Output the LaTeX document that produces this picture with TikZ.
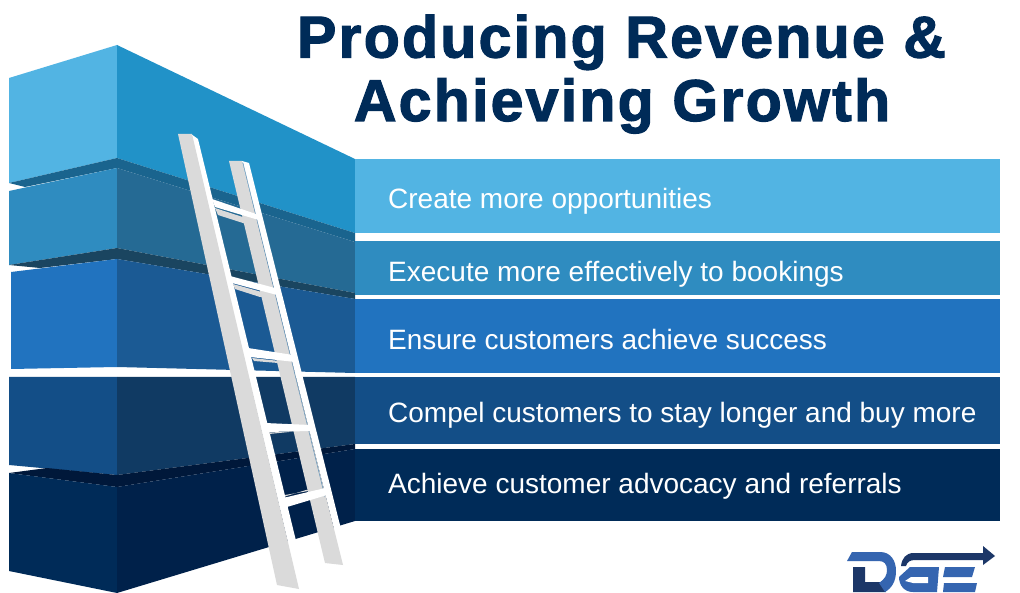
\documentclass[tikz,border=0pt]{standalone}
\usepackage{fontspec}
\setmainfont{Liberation Sans}
\definecolor{skyA}{HTML}{52B4E3}
\definecolor{skyB}{HTML}{2192C8}
\definecolor{skyC}{HTML}{1A648E}
\definecolor{tealA}{HTML}{2F8CC0}
\definecolor{tealB}{HTML}{256A94}
\definecolor{tealC}{HTML}{1A4560}
\definecolor{blueA}{HTML}{2173BF}
\definecolor{blueB}{HTML}{1B5A94}
\definecolor{deepA}{HTML}{134E87}
\definecolor{deepB}{HTML}{103A63}
\definecolor{navyA}{HTML}{002B58}
\definecolor{navyB}{HTML}{00214A}
\definecolor{navyC}{HTML}{00183A}
\definecolor{railgray}{HTML}{DADADA}
\definecolor{railline}{HTML}{5E8FB5}
\definecolor{logoA}{HTML}{3565B0}
\definecolor{logoB}{HTML}{1C3768}
\tikzset{
  paneltext/.style={anchor=base west, inner sep=0pt, text=white, font=\fontsize{28}{28}\selectfont},
  titleline/.style={anchor=base, inner sep=0pt, text=navyA, font=\fontsize{59}{59}\selectfont\bfseries\addfontfeature{LetterSpace=3.8,FakeBold=2}}
}
\begin{document}
\begin{tikzpicture}[x=1pt, y=-1pt]
\useasboundingbox (0,0) rectangle (1020,593);
\fill[white] (0,0) rectangle (1020,593);
% blocks
\fill[skyA] (9,78)--(117,45)--(117,158)--(9,183)--cycle;
\fill[skyB] (117,45)--(355,159)--(355,233)--(117,158)--cycle;
\fill[skyC] (9,183)--(117,158)--(355,233)--(355,242)--(117,168)--(25,187)--cycle;
\fill[tealA] (9,191)--(117,168)--(117,248)--(9,265)--cycle;
\fill[tealB] (117,168)--(355,242)--(355,293)--(117,248)--cycle;
\fill[tealC] (9,265)--(117,248)--(355,293)--(355,299)--(117,259)--(40,268)--cycle;
\fill[blueA] (11,272)--(117,259)--(117,367)--(11,369)--cycle;
\fill[blueB] (117,259)--(355,299)--(355,373)--(117,367)--cycle;
\fill[deepA] (9,377)--(117,377)--(117,475)--(9,465)--cycle;
\fill[deepB] (117,377)--(355,377)--(355,444)--(117,475)--cycle;
\fill[navyC] (9,473)--(47,468)--(117,475)--(355,444)--(355,449)--(117,487)--cycle;
\fill[navyA] (9,473)--(117,487)--(117,593)--(9,571)--cycle;
\fill[navyB] (117,487)--(355,449)--(355,521)--(117,593)--cycle;
% panels
\fill[skyA] (355,159) rectangle (1000,233);
\fill[tealA] (355,241) rectangle (1000,295);
\fill[blueA] (355,299) rectangle (1000,373);
\fill[deepA] (355,377) rectangle (1000,444);
\fill[navyA] (355,449) rectangle (1000,521);
\node[paneltext] (create) at (388,209) {Create more opportunities};
\node[paneltext] (execute) at (388,282) {Execute more effectively to bookings};
\node[paneltext] (ensure) at (388,350) {Ensure customers achieve success};
\node[paneltext] (compel) at (388,422) {Compel customers to stay longer and buy more};
\node[paneltext] (advocacy) at (388,493) {Achieve customer advocacy and referrals};
% title
\node[titleline] (line1) at (621.5,57.5) {Producing Revenue \&};
\node[titleline] (line2) at (622,121) {Achieving Growth};
% ladder
\fill[white] (191,134)--(198,139)--(308,590)--(299,589)--cycle;
\fill[railgray] (178,134)--(192,134)--(299,589)--(277,585)--cycle;
\fill[white] (242,161)--(249,163)--(340,525)--(343,565)--cycle;
\fill[railgray] (229,161)--(242,161)--(343,565)--(325,563)--cycle;
\draw[railline, line width=.5pt] (243,163)--(325,497);
\foreach \ax/\ay/\bx/\by/\cx/\cy/\dx/\dy in {212/199/256/214/262/221/215/207, 230/276/275/288/277/295/232/283, 248/348/293/355/295/362/250/357, 265/423/310/425/310/431/268/432, 283/498/325/488/327/495/287/507}{
  \fill[white] (\ax,\ay)--(\bx,\by)--(\cx,\cy)--(\dx,\dy)--cycle;
}
\fill[railgray] (215,208)--(258,222)--(246,224)--(218,215)--cycle;
\fill[railgray] (233,284)--(276,296)--(260,297)--(235,289)--cycle;
\fill[railgray] (252,358)--(293,362.5)--(278,363)--(254,361)--cycle;
\fill[railgray] (269,432.5)--(294,431.5)--(269,434)--cycle;
\fill[railgray] (285,495)--(323,488.5)--(306,490)--(285,496.5)--cycle;
% logo
\fill[logoB] (853,567)--(865,567)--(865,582)--(880,582)--(886,592)--(853,592)--cycle;
\fill[logoA] (847,561)--(852,552)--(880,552) .. controls (891,552) and (896,561) .. (896,571) .. controls (896,581) and (892,588) .. (885,592)--(879,583) .. controls (885,579) and (887,575) .. (887,570) .. controls (887,564) and (884,561) .. (879,561)--cycle;
\fill[logoB] (901,566) .. controls (902,558) and (906,553) .. (914,553)--(983,553)--(983,546)--(995,556)--(983,565)--(983,560)--(915,560) .. controls (910,560) and (907,562) .. (906,566)--cycle;
\fill[logoA] (910,567)--(939,567)--(937,592)--(913,592) .. controls (904,592) and (899,585) .. (899,577)--cycle;
\fill[white] (905,581)--(911,577)--(928,577)--(928,583)--(913,583)--cycle;
\fill[logoA] (945,567)--(975,567)--(972,577)--(943,577)--cycle;
\fill[logoA] (944,583)--(977,583)--(975,592)--(943,592)--cycle;
\end{tikzpicture}
\end{document}
